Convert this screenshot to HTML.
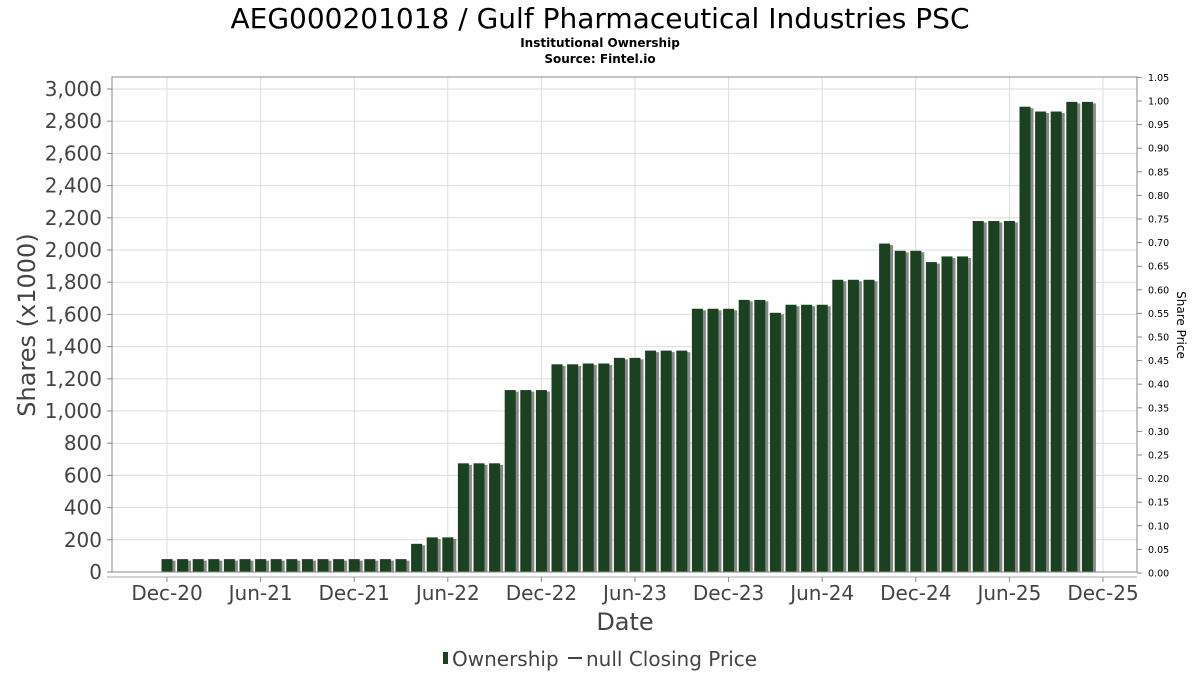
<!DOCTYPE html>
<html><head><meta charset="utf-8"><style>
body{margin:0;background:#fff;font-family:"DejaVu Sans","Liberation Sans",sans-serif;}
svg text{font-family:"DejaVu Sans","Liberation Sans",sans-serif;}
</style></head><body>
<svg id="chart" width="1200" height="675" viewBox="0 0 1200 675" xmlns="http://www.w3.org/2000/svg">
<text x="600" y="28" text-anchor="middle" font-size="28" fill="#000">AEG000201018 / Gulf Pharmaceutical Industries PSC</text>
<text x="600" y="47" text-anchor="middle" font-size="12" font-weight="bold" fill="#000">Institutional Ownership</text>
<text x="600" y="63" text-anchor="middle" font-size="12" font-weight="bold" fill="#000">Source: Fintel.io</text>
<g id="grid"></g><g id="bars"></g>
<rect x="112" y="77" width="1025" height="495" fill="none" stroke="#888" stroke-width="1"/>
<g id="axes"></g>
<text transform="translate(35,325) rotate(-90)" text-anchor="middle" font-size="24" fill="#444">Shares (x1000)</text>
<text transform="translate(1177,325) rotate(90)" text-anchor="middle" font-size="12" fill="#000">Share Price</text>
<text x="625" y="630" text-anchor="middle" font-size="24" fill="#444">Date</text>
<g>
<rect x="443" y="652" width="5" height="12" fill="#1a4220"/>
<text x="452" y="666" font-size="20" fill="#444">Ownership</text>
<line x1="566" y1="658" x2="580" y2="658" transform="translate(2,0)" stroke="#444" stroke-width="2"/>
<text x="586" y="666" font-size="20" fill="#444">null Closing Price</text>
</g>
</svg>
<script>
const values=[80,80,80,80,80,80,80,80,80,80,80,80,80,80,80,80,175,215,215,675,675,675,1130,1130,1130,1290,1290,1295,1295,1330,1330,1375,1375,1375,1635,1635,1635,1690,1690,1610,1660,1660,1660,1815,1815,1815,2040,1995,1995,1925,1960,1960,2180,2180,2180,2890,2860,2860,2920,2920];
const yTicks=[0,200,400,600,800,1000,1200,1400,1600,1800,2000,2200,2400,2600,2800,3000];
const y2Ticks=["0.00","0.05","0.10","0.15","0.20","0.25","0.30","0.35","0.40","0.45","0.50","0.55","0.60","0.65","0.70","0.75","0.80","0.85","0.90","0.95","1.00","1.05"];
const xLabels=["Dec-20","Jun-21","Dec-21","Jun-22","Dec-22","Jun-23","Dec-23","Jun-24","Dec-24","Jun-25","Dec-25"];
const NS="http://www.w3.org/2000/svg";
const X=m=>167+15.6*m;
const Y=v=>572-v*(483/3000);
const Y2=p=>573-p*(472/1.0);
function mk(tag,attrs,parent,text){const e=document.createElementNS(NS,tag);for(const k in attrs)e.setAttribute(k,attrs[k]);if(text!==undefined)e.textContent=text;parent.appendChild(e);return e;}
const grid=document.getElementById('grid'),bars=document.getElementById('bars'),axes=document.getElementById('axes');
yTicks.forEach(t=>{
 const l=mk('line',{x1:112,x2:1137,y1:Y(t),y2:Y(t),stroke:'#ddd','stroke-width':1},grid);
 
 
 const tk=mk('line',{x1:107,x2:112,y1:Y(t),y2:Y(t),stroke:'#888'},axes);
 
 
 const tx=mk('text',{x:102,y:Y(t)+7,'text-anchor':'end','font-size':20,fill:'#444'},axes,t.toLocaleString('en-US'));
 
 
});
y2Ticks.forEach(t=>{
 const y=Y2(parseFloat(t));
 const tk=mk('line',{x1:1137,x2:1142,y1:y,y2:y,stroke:'#888'},axes);
 
 
 const tx=mk('text',{x:1148,y:y+3.5,'font-size':9.5,fill:'#000'},axes,t);
 
 
});
xLabels.forEach((s,i)=>{
 const x=X(i*6);
 const l=mk('line',{x1:x,x2:x,y1:77,y2:572,stroke:'#ddd'},grid);
 
 
 const tk=mk('line',{x1:x,x2:x,y1:577,y2:582,stroke:'#888'},axes);
 
 
 const tx=mk('text',{x:x,y:600,'text-anchor':'middle','font-size':20,fill:'#444'},axes,s);
 
 
});
const xl=mk('line',{x1:107,x2:1137,y1:577,y2:577,stroke:'#aaa'},axes);


values.forEach((v,i)=>{
 const x=X(i)-5.5,y=Y(v),h=572-y;
 const s=mk('rect',{x:x+3,y:y+1.5,width:11,height:h-1.5,fill:'#888'},bars);
 
 
 const b=mk('rect',{x:x,y:y,width:11,height:h,fill:'#1a4220'},bars);
 
 
});
</script>
</body></html>
